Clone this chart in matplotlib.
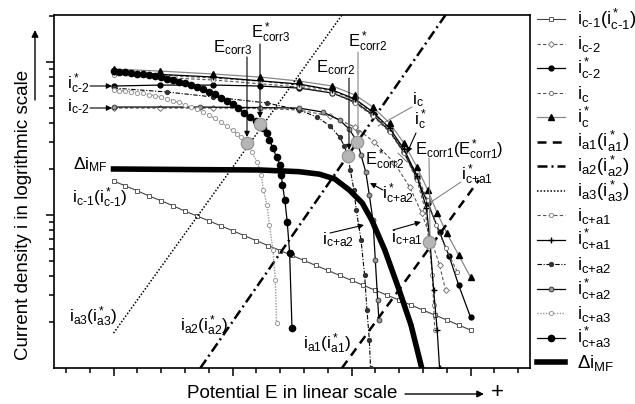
import matplotlib.pyplot as plt
from matplotlib.lines import Line2D

plt.rcParams['font.family'] = 'Liberation Sans'
plt.rcParams['mathtext.fontset'] = 'custom'
plt.rcParams['mathtext.rm'] = 'Liberation Sans'
plt.rcParams['mathtext.it'] = 'Liberation Sans'
plt.rcParams['mathtext.bf'] = 'Liberation Sans:bold'

# potential E (arbitrary linear units) and current density i (log units)
E_c1 = [1.0, 1.1, 1.2, 1.3, 1.4, 1.5, 1.6, 1.7, 1.8, 1.9, 2.0, 2.1, 2.2, 2.3, 2.4, 2.5,
        2.6, 2.7, 2.8, 2.9, 3.0, 3.1, 3.2, 3.3, 3.4, 3.5, 3.6, 3.7, 3.8, 3.9, 4.0]
i_c1 = [16.7, 15.5, 14.4, 13.3, 12.4, 11.5, 10.6, 9.88, 9.17, 8.51, 7.90, 7.33, 6.80, 6.31,
        5.86, 5.44, 5.05, 4.68, 4.35, 4.03, 3.74, 3.47, 3.22, 2.99, 2.78, 2.58, 2.39, 2.22,
        2.06, 1.91, 1.77]

E_c2 = [1.00, 1.39, 1.84, 2.23, 2.56, 2.82, 3.03, 3.19, 3.36, 3.49, 3.59, 3.67, 3.74, 3.79]
i_c2 = [50.0, 50.0, 50.0, 49.7, 48.6, 44.4, 37.6, 30.0, 21.9, 15.2, 10.3, 6.87, 4.71, 3.24]

E_c2s = [1.00, 1.39, 1.84, 2.23, 2.56, 2.84, 3.03, 3.18, 3.32, 3.44, 3.55, 3.64, 3.74,
         3.82, 3.90, 4.00]
i_c2s = [69.7, 70.7, 70.7, 69.7, 67.6, 62.7, 54.8, 45.1, 35.4, 25.8, 17.4, 12.0, 7.74,
         5.40, 3.49, 2.15]

E_c = [1.00, 1.39, 1.84, 2.23, 2.56, 2.84, 3.03, 3.18, 3.32, 3.44, 3.55, 3.64, 3.71,
       3.79, 3.89]
i_c = [84.7, 82.2, 78.6, 75.1, 70.7, 64.6, 56.5, 46.4, 36.5, 26.6, 18.3, 12.5, 8.60,
       6.09, 4.24]

E_cs = [1.00, 1.39, 1.84, 2.23, 2.56, 2.84, 3.03, 3.18, 3.32, 3.44, 3.55, 3.64, 3.72,
        3.80, 3.90, 4.00]
i_cs = [90.0, 87.3, 83.5, 79.8, 75.1, 69.7, 60.9, 50.8, 39.9, 29.6, 20.6, 14.6, 10.3,
        7.63, 5.48, 3.93]

# anodic Tafel lines
E_a1 = [2.92, 4.07]
i_a1 = [1.0, 16.9]
E_a2 = [1.73, 3.79]
i_a2 = [1.0, 203]
E_a3 = [1.00, 2.92]
i_a3 = [1.69, 203]

E_ca1 = [1.00, 1.84, 2.56, 2.84, 3.03, 3.18, 3.32, 3.44, 3.55, 3.62, 3.65, 3.68, 3.69, 3.70]
i_ca1 = [82.2, 76.3, 68.7, 62.7, 54.0, 44.4, 34.9, 25.4, 16.9, 10.8, 6.66, 4.05, 2.58, 1.77]

E_ca1s = [1.00, 1.84, 2.56, 2.84, 3.03, 3.18, 3.32, 3.44, 3.55, 3.63, 3.66, 3.69, 3.72, 3.74]
i_ca1s = [86.0, 79.8, 71.8, 65.6, 57.3, 47.1, 37.0, 27.0, 18.0, 11.1, 6.66, 3.24, 1.77, 1.00]

E_ca2 = [1.00, 1.45, 1.84, 2.29, 2.56, 2.71, 2.82, 2.90, 2.94, 2.97, 2.99, 3.02, 3.04,
         3.08, 3.11, 3.13, 3.15, 3.16]
i_ca2 = [67.6, 63.7, 59.1, 54.0, 48.6, 43.7, 38.2, 32.3, 28.3, 24.3, 19.7, 14.6, 10.8,
         6.87, 4.05, 2.39, 1.52, 1.00]

E_ca2s = [1.00, 1.73, 2.23, 2.56, 2.76, 2.90, 2.98, 3.05, 3.08, 3.12, 3.15, 3.18, 3.20,
          3.22, 3.23]
i_ca2s = [50.8, 50.8, 50.4, 50.0, 47.1, 41.8, 36.5, 30.0, 24.7, 19.1, 13.5, 9.27, 5.08,
          2.78, 2.06]

E_ca3 = [1.00, 1.05, 1.10, 1.15, 1.20, 1.25, 1.30, 1.35, 1.40, 1.45, 1.50, 1.55, 1.60,
         1.65, 1.70, 1.75, 1.80, 1.85, 1.90, 1.95, 2.00, 2.04, 2.07, 2.10, 2.12,
         2.16, 2.21, 2.24, 2.26, 2.29, 2.31, 2.34, 2.36, 2.37]
i_ca3 = [65.6, 65.1, 64.6, 64.0, 63.2, 62.3, 61.3, 60.3, 59.1, 57.7, 56.0, 54.4, 52.7,
         51.0, 49.3, 47.3, 45.1, 42.8, 40.5, 38.2, 35.7, 33.9, 32.3, 30.6, 29.6,
         25.8, 22.2, 18.3, 14.6, 11.6, 8.60, 5.90, 3.76, 1.97]

E_ca3s = [1.00, 1.05, 1.10, 1.15, 1.20, 1.25, 1.30, 1.35, 1.40, 1.45, 1.50, 1.55, 1.60,
          1.65, 1.70, 1.75, 1.80, 1.85, 1.90, 1.95, 2.00, 2.05, 2.10, 2.15, 2.20, 2.23,
          2.26, 2.29, 2.31, 2.34, 2.37, 2.40, 2.41, 2.42, 2.44, 2.46, 2.48, 2.50]
i_ca3s = [87.3, 86.7, 86.0, 85.1, 84.1, 83.2, 82.2, 81.0, 79.4, 77.9, 76.3, 74.3, 72.5,
          70.4, 68.4, 66.3, 64.1, 61.5, 58.6, 56.0, 53.2, 49.7, 46.4, 43.7, 41.1, 39.9,
          37.0, 34.4, 30.9, 27.4, 23.9, 21.2, 18.3, 15.7, 12.5, 9.00, 5.65, 1.83]

E_mf = [1.00, 1.73, 2.23, 2.56, 2.73, 2.86, 2.98, 3.09, 3.17, 3.28, 3.40, 3.50, 3.59]
i_mf = [20.0, 19.8, 19.7, 19.2, 18.5, 17.2, 14.6, 12.0, 9.27, 5.90, 3.24, 1.91, 1.00]

# corrosion potentials: Ecorr3, E*corr3, Ecorr2, E*corr2, Ecorr1
E_corr = [2.12, 2.23, 2.97, 3.05, 3.65]
i_corr = [29.6, 39.3, 24.3, 30.0, 6.66]

series = [
    (r'$\mathrm{i_{\text{c-1}}(i^*_{\text{c-1}})}$', E_c1, i_c1,
     dict(color='#444444', lw=0.8, marker='s', ms=3.2, mfc='white', mec='#444444', mew=0.6)),
    (r'$\mathrm{i_{\text{c-2}}}$', E_c2, i_c2,
     dict(color='#555555', lw=0.8, ls=(0, (3, 2)), marker='D', ms=3, mfc='white', mec='#666666', mew=0.6)),
    (r'$\mathrm{i^*_{\text{c-2}}}$', E_c2s, i_c2s,
     dict(color='black', lw=0.9, marker='o', ms=3.5, mfc='black', mec='black')),
    (r'$\mathrm{i_c}$', E_c, i_c,
     dict(color='#555555', lw=0.8, ls=(0, (3, 2)), marker='o', ms=3, mfc='white', mec='#666666', mew=0.6)),
    (r'$\mathrm{i^*_c}$', E_cs, i_cs,
     dict(color='#888888', lw=0.9, marker='^', ms=4, mfc='black', mec='black')),
    (r'$\mathrm{i_{a1}(i^*_{a1})}$', E_a1, i_a1,
     dict(color='black', lw=1.8, ls=(0, (3.6, 2.5)))),
    (r'$\mathrm{i_{a2}(i^*_{a2})}$', E_a2, i_a2,
     dict(color='black', lw=1.8, ls=(0, (4, 1.6, 0.8, 1.6)))),
    (r'$\mathrm{i_{a3}(i^*_{a3})}$', E_a3, i_a3,
     dict(color='black', lw=1.1, ls=(0, (1, 1.2)))),
    (r'$\mathrm{i_{\text{c+a1}}}$', E_ca1, i_ca1,
     dict(color='#555555', lw=0.8, ls=(0, (3, 2)), marker='o', ms=3, mfc='white', mec='#777777', mew=0.6)),
    (r'$\mathrm{i^*_{\text{c+a1}}}$', E_ca1s, i_ca1s,
     dict(color='black', lw=0.9, marker='+', ms=4.5, mec='black', mew=1)),
    (r'$\mathrm{i_{\text{c+a2}}}$', E_ca2, i_ca2,
     dict(color='black', lw=0.8, ls=(0, (4, 1.5, 1, 1.5)), marker='o', ms=2.8, mfc='#333333', mec='#333333')),
    (r'$\mathrm{i^*_{\text{c+a2}}}$', E_ca2s, i_ca2s,
     dict(color='black', lw=0.9, marker='o', ms=3.5, mfc='#999999', mec='#333333', mew=0.6)),
    (r'$\mathrm{i_{\text{c+a3}}}$', E_ca3, i_ca3,
     dict(color='#999999', lw=1.0, ls=(0, (1, 1)), marker='o', ms=3, mfc='white', mec='#999999', mew=0.7)),
    (r'$\mathrm{i^*_{\text{c+a3}}}$', E_ca3s, i_ca3s,
     dict(color='black', lw=0.9, marker='o', ms=4.5, mfc='black', mec='black')),
    (r'$\mathrm{\Delta i_{MF}}$', E_mf, i_mf,
     dict(color='black', lw=4)),
]

W, H = 635, 404


def fp(x, y):
    # pixel position (from top-left) to figure fraction
    return x / W, 1 - y / H


fig = plt.figure(figsize=(6.35, 4.04), dpi=100)
ax = fig.add_axes([54 / W, 1 - 368 / H, 476 / W, 353 / H])

for label, E, i, st in series:
    ax.plot(E, i, **st, zorder=3)

ax.plot(E_corr, i_corr, ls='none', marker='o', ms=9, mfc='#b5b5b5', mec='#909090',
        mew=0.8, zorder=5)

ax.set_yscale('log')
ax.set_xlim(0.5, 4.5)
ax.set_ylim(1, 203)
ax.set_xticks([1, 2, 3, 4])
ax.set_xticks([x / 5 for x in range(3, 23)], minor=True)
ax.set_yticks([10, 100])
ax.tick_params(which='both', direction='out', labelleft=False, labelbottom=False,
               width=1.1)
ax.tick_params(which='major', length=6)
ax.tick_params(which='minor', length=3.5)
for sp in ax.spines.values():
    sp.set_linewidth(1.2)

# axis titles with arrows
fig.text(*fp(292, 393), 'Potential E in linear scale', ha='center', va='center',
         fontsize=13.5)
fig.text(*fp(497, 393), '+', ha='center', va='center', fontsize=16)
ax.annotate('', xy=fp(484, 394), xycoords='figure fraction', xytext=fp(405, 394),
            textcoords='figure fraction',
            arrowprops=dict(arrowstyle='-|>', color='black', lw=1, mutation_scale=10,
                            shrinkA=0, shrinkB=0))
fig.text(*fp(24, 215), 'Current density i in logrithmic scale', ha='center',
         va='center', rotation=90, fontsize=13.5)
ax.annotate('', xy=fp(35, 30), xycoords='figure fraction', xytext=fp(35, 100),
            textcoords='figure fraction',
            arrowprops=dict(arrowstyle='-|>', color='black', lw=1, mutation_scale=10,
                            shrinkA=0, shrinkB=0))

# curve labels
fs_e = 12
fs_i = 12.5
labels = [
    (r'$\mathrm{E_{corr3}}$', 233, 48, fs_e),
    (r'$\mathrm{E^*_{corr3}}$', 271, 33, fs_e),
    (r'$\mathrm{E_{corr2}}$', 336, 68, fs_e),
    (r'$\mathrm{E^*_{corr2}}$', 368, 42, fs_e),
    (r'$\mathrm{E_{corr1}(E^*_{corr1})}$', 459, 150, fs_e),
    (r'$\mathrm{E^*_{corr2}}$', 385, 160, fs_e),
    (r'$\mathrm{i_c}$', 418, 100, fs_i),
    (r'$\mathrm{i^*_c}$', 420, 120, fs_i),
    (r'$\mathrm{i^*_{\text{c+a1}}}$', 477, 175, fs_i),
    (r'$\mathrm{i^*_{\text{c+a2}}}$', 398, 194, fs_i),
    (r'$\mathrm{i_{\text{c+a2}}}$', 338, 240, fs_i),
    (r'$\mathrm{i_{\text{c+a1}}}$', 407, 238, fs_i),
    (r'$\mathrm{i^*_{\text{c-2}}}$', 78, 84, fs_i),
    (r'$\mathrm{i_{\text{c-2}}}$', 78, 107, fs_i),
    (r'$\mathrm{\Delta i_{MF}}$', 90, 165, fs_i),
    (r'$\mathrm{i_{\text{c-1}}(i^*_{\text{c-1}})}$', 100, 198, fs_i),
    (r'$\mathrm{i_{a3}(i^*_{a3})}$', 93, 317, fs_i),
    (r'$\mathrm{i_{a2}(i^*_{a2})}$', 204, 326, fs_i),
    (r'$\mathrm{i_{a1}(i^*_{a1})}$', 327, 344, fs_i),
]
for txt, x, y, size in labels:
    fig.text(*fp(x, y), txt, ha='center', va='center', fontsize=size)


def arrow(x0, y0, x1, y1, head=True, color='black', lw=0.8):
    ax.annotate('', xy=fp(x1, y1), xycoords='figure fraction', xytext=fp(x0, y0),
                textcoords='figure fraction',
                arrowprops=dict(arrowstyle='-|>' if head else '-', color=color, lw=lw,
                                mutation_scale=8, shrinkA=0, shrinkB=0))


arrow(247, 57, 247, 137)
arrow(260, 44, 260, 118)
arrow(349, 78, 349, 150)
arrow(358, 52, 358, 136, color='#777777', lw=0.7)
arrow(429, 158, 430, 236, head=False, color='#777777', lw=0.7)
arrow(412, 107, 378, 126, head=False, color='#777777', lw=0.7)
arrow(416, 133, 407, 153)
arrow(461, 182, 428, 204, head=False, color='#777777', lw=0.7)
arrow(383, 190, 370, 183)
arrow(330, 233, 364, 225)
arrow(393, 230, 421, 222)
arrow(398, 153, 407, 162, head=False, color='#777777', lw=0.7)
arrow(90, 86, 112, 86)
arrow(90, 108, 112, 108)

# legend drawn beside the axes
for k, (label, E, i, st) in enumerate(series):
    y = 19 + 24.5 * k
    x0, y0 = fp(537, y)
    x1, _ = fp(565, y)
    handle = Line2D([x0, (x0 + x1) / 2, x1], [y0, y0, y0], transform=fig.transFigure,
                    markevery=[1], **st)
    fig.add_artist(handle)
    fig.text(*fp(577, y + 6), label, ha='left', va='baseline', fontsize=13.5)

fig.savefig('out.png', dpi=100)
